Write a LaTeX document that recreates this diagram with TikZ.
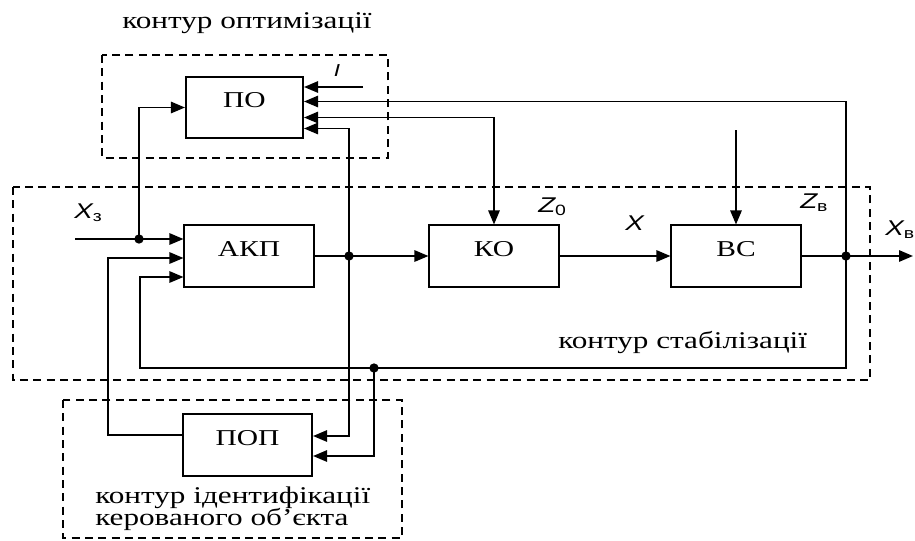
\documentclass[tikz,border=0pt]{standalone}
\usepackage{fontspec}
\setmainfont{Liberation Serif}[FakeStretch=1.3]
\setsansfont{Liberation Sans}[FakeStretch=1.3]
\usetikzlibrary{arrows.meta,calc}

\begin{document}
\begin{tikzpicture}[x=0.75pt,y=-0.75pt,
        >={Triangle[length=10.5pt,width=8.5pt]},
        blok/.style={draw,line width=1.3pt,minimum width=97pt,minimum height=46pt,
            text height=11pt,text depth=11pt,font=\fontsize{17}{17}\selectfont},
        lin/.style={line width=1.4pt},
        kontur/.style={line width=1.1pt,dash pattern=on 6pt off 4pt},
        vuzol/.style={circle,fill,inner sep=0pt,minimum size=7pt},
        zminna/.style={inner sep=0pt,font=\sffamily\itshape\fontsize{16}{16}\selectfont},
        napys/.style={inner sep=0pt,font=\fontsize{18}{18}\selectfont}]

        \useasboundingbox (0,0) rectangle (915,540);

        % kontury
        \draw[kontur] (102,55) rectangle (388,158);
        \draw[kontur] (13,187) rectangle (870,380);
        \draw[kontur] (63,400) rectangle (402,538);
        \node[napys,anchor=base west] (nopt) at (122,28) {контур оптимізації};
        \node[napys,anchor=base west] (nstab) at (558,348) {контур стабілізації};
        \node[napys,anchor=base west] (nid1) at (95,503) {контур ідентифікації};
        \node[napys,anchor=base west] (nid2) at (95,525) {керованого об’єкта};

        % bloky
        \node[blok,minimum width=88pt] (po) at (244.5,107.5) {ПО};
        \node[blok] (akp) at (249,256) {АКП};
        \node[blok] (ko) at (494,256) {КО};
        \node[blok] (bc) at (736,256) {ВС};
        \node[blok] (pop) at (247.5,445) {ПОП};

        \coordinate (xin) at (75,239);
        \coordinate (j1) at (139,239);
        \coordinate (j2) at (349,256);
        \coordinate (j4) at (846,256);
        \coordinate (j5) at (374,368);
        \coordinate (fb) at (140,368);
        \coordinate (iin) at (363,87);
        \coordinate (zin) at (736,130);
        \coordinate (xout) at (913,256);

        % zvjazky
        \draw[lin,->] (xin) -- (xin -| akp.west);
        \draw[lin,->] (j1) |- (po.west);
        \draw[lin,->] (iin) -- (iin -| po.east);
        \draw[lin,->] (j4) |- ($(po.east)+(0,-6)$);
        \draw[lin,<->] ($(po.east)+(0,10)$) -| (ko.north);
        \draw[lin,->] (j2) |- ($(po.east)+(0,21)$);
        \draw[lin,->] (j2) |- ($(pop.east)+(0,-9)$);
        \draw[lin,->] (j5) |- ($(pop.east)+(0,11)$);
        \draw[lin,->] (akp) -- (ko);
        \draw[lin,->] (ko) -- (bc);
        \draw[lin,->] (bc) -- (xout);
        \draw[lin,->] (zin) -- (bc.north);
        \draw[lin,->] (j4) |- (fb) |- ($(akp.west)+(0,21)$);
        \draw[lin,->] ($(pop.west)+(0,-10)$) -- ++(-74,0) |- ($(akp.west)+(0,2)$);

        \node[vuzol] at (j1) {};
        \node[vuzol] at (j2) {};
        \node[vuzol] at (j4) {};
        \node[vuzol] at (j5) {};

        % zminni
        \node[zminna,anchor=base west] (lxz) at (74,218) {X\textsubscript{\upshape з}};
        \node[zminna,anchor=base west] (lz0) at (538,212) {Z\textsubscript{\upshape 0}};
        \node[zminna,anchor=base west] (lx) at (625,230) {X};
        \node[zminna,anchor=base west] (lzv) at (800,208) {Z\textsubscript{\upshape в}};
        \node[zminna,anchor=base west] (lxv) at (885,235) {X\textsubscript{\upshape в}};
        \node[zminna,font=\sffamily\itshape\fontsize{13}{13}\selectfont] (li) at (337,71) {I};
\end{tikzpicture}
\end{document}
